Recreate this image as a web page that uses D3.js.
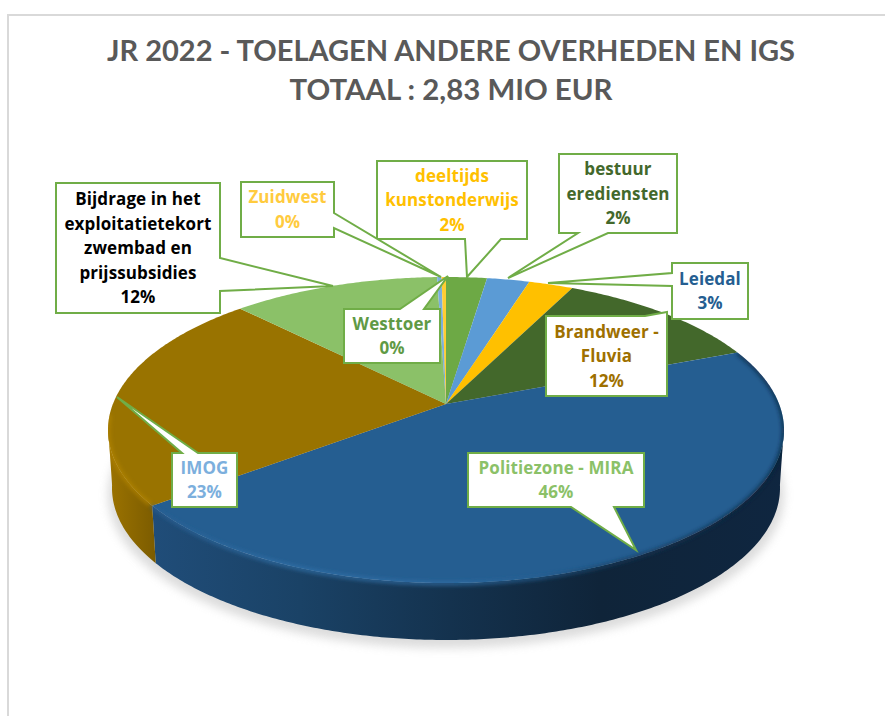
<!DOCTYPE html>
<html><head><meta charset="utf-8">
<script src="https://cdn.jsdelivr.net/npm/d3@7"></script>
<style>html,body{margin:0;padding:0;background:#fff}svg{display:block}</style></head>
<body><div id="chart"></div>
<script>
// ---- data ----
const categories = ["deeltijds kunstonderwijs","bestuur erediensten","Leiedal","Brandweer - Fluvia","Politiezone - MIRA","IMOG","Bijdrage in het exploitatietekort zwembad en prijssubsidies","Westtoer","Zuidwest"];
const values = [2.3,2.4,2.5,11.8,45.5,23.3,11.7,0.25,0.25];
const titleLines = ["JR 2022 - TOELAGEN ANDERE OVERHEDEN EN IGS","TOTAAL : 2,83 MIO EUR"];
const labelLines = [["deeltijds","kunstonderwijs"],["bestuur","erediensten"],["Leiedal"],["Brandweer -","Fluvia"],["Politiezone - MIRA"],["IMOG"],["Bijdrage in het","exploitatietekort","zwembad en","prijssubsidies"],["Westtoer"],["Zuidwest"]];
// ---- styles ----
const sliceColors = ["#6DA945","#5B9BD5","#FFC000","#43682B","#255E91","#997300","#8BC168","#7CAFDD","#FFCD33"];
const labelColors = ["#FFC000","#43682B","#255E91","#9E7000","#8BC168","#7CAFDD","#000000","#5F9A45","#FFCB3E"];
// callout layout [left, top, right, bottom] and pointer polygon
const callouts = [
 {box:[377,161,527,239],ptr:[[465,239],[467,277],[501,239]]},
 {box:[559,154,677,233],ptr:[[578,233],[508,278],[608,233]]},
 {box:[672,263,748,319],ptr:[[672,273],[548,283],[672,286]]},
 {box:[546,316,667,396],ptr:[[645,316],[667,312],[667,316]]},
 {box:[468,453,644,507],ptr:[[571,507],[636,550],[614,507]]},
 {box:[172,453,237,507],ptr:[[182,453],[117,397],[198,453]]},
 {box:[56,183,220,313],ptr:[[220,258],[333,286],[220,291]]},
 {box:[344,309,440,363],ptr:[[400,309],[448,276],[424,309]]},
 {box:[241,182,334,237],ptr:[[334,213],[441,277],[334,228]]}
];
// ---- geometry: a tilted disc seen in perspective ----
const W=885,H=716, cx=446, cy=430, rx=338, ry=153, apexY=404;
const a=(apexY-cy)/ry, s=Math.sqrt(1-a*a);
function project(theta, r=1, c=cy, radX=rx, radY=ry){
  const u=r*Math.sin(theta), v=-r*Math.cos(theta), d=1+a*v;
  return [cx+radX*u*s/d, c+radY*(v+a)/d];
}
const frontFrom=Math.acos(a), frontTo=2*Math.PI-Math.acos(a);
function sample(t0,t1){const n=Math.max(2,Math.ceil(Math.abs(t1-t0)/0.01));return d3.range(n+1).map(i=>t0+(t1-t0)*i/n);}
const line=d3.line();
const arcs=d3.pie().sort(null).value(d=>d)(values);

const svg=d3.select("#chart").append("svg").attr("width",W).attr("height",H);
const defs=svg.append("defs");
function blur(id,sd){defs.append("filter").attr("id",id).attr("x","-20%").attr("y","-20%").attr("width","140%").attr("height","140%")
  .append("feGaussianBlur").attr("stdDeviation",sd);}
blur("b6",5);blur("b2",2);blur("b1",1);
function grad(id,stops){const g=defs.append("linearGradient").attr("id",id).attr("gradientUnits","userSpaceOnUse")
  .attr("x1",108).attr("x2",785).attr("y1",0).attr("y2",0);
  stops.forEach(([x,c])=>g.append("stop").attr("offset",(x-108)/677).attr("stop-color",c));}
grad("wallNavy",[[150,"#204D79"],[300,"#1A4266"],[450,"#14324E"],[600,"#0F2439"],[785,"#0F2640"]]);
grad("wallBrown",[[108,"#9C7300"],[155,"#7C5C00"]]);
grad("rimNavy",[[150,"#285F92"],[280,"#3373AC"],[450,"#3070A8"],[540,"#255E91"],[620,"#16395A"],[785,"#0E2238"]]);
grad("rimBrown",[[108,"#B58600"],[155,"#B58600"]]);

// frame
svg.append("path").attr("d",`M${W},15H8V${H}`).attr("fill","none").attr("stroke","#D9D9D9").attr("stroke-width",2);

// title
svg.append("g").selectAll("text").data(titleLines).join("text")
 .attr("x",451).attr("y",(d,i)=>61+i*38.5).attr("text-anchor","middle")
 .attr("font-family","Lato").attr("font-weight",700).attr("font-size",28).attr("fill","#595959")
 .attr("textLength",(d,i)=>[688,323][i]).attr("lengthAdjust","spacingAndGlyphs").text(d=>d);

// ground shadow
svg.append("path").attr("d",line(sample(0,2*Math.PI).map(t=>project(t,1,cy+65,338,153))))
 .attr("fill","#a8a8a8").attr("opacity",.4).attr("filter","url(#b6)");

// walls
const wallFill={4:"url(#wallNavy)",5:"url(#wallBrown)"};
const wallPath=d=>{
   const t0=Math.max(d.startAngle,frontFrom-0.02),t1=Math.min(d.endAngle,frontTo+0.02);
   const ts=sample(t0,t1);
   return line(ts.map(t=>project(t)).concat(ts.slice().reverse().map(t=>project(t,1,cy+58,334,152))))+"Z";
};
const frontArcs=arcs.filter(d=>d.endAngle>frontFrom&&d.startAngle<frontTo);
svg.append("g").selectAll("path").data(frontArcs).join("path").attr("d",wallPath).attr("fill",d=>wallFill[d.index]);

// top faces
svg.append("g").selectAll("path").data(arcs).join("path")
 .attr("d",d=>line([[cx,apexY]].concat(sample(d.startAngle,d.endAngle).map(t=>project(t))))+"Z")
 .attr("fill",d=>sliceColors[d.index]);

// bevel along the rim, kept inside the silhouette of the disc
const rimStroke={4:"url(#rimNavy)",5:"url(#rimBrown)"};
const clip=defs.append("clipPath").attr("id","discClip");
clip.append("path").attr("d",line(sample(0,2*Math.PI).map(t=>project(t)))+"Z");
clip.selectAll("path.w").data(frontArcs).join("path").attr("class","w").attr("d",wallPath);
svg.append("g").attr("clip-path","url(#discClip)").selectAll("path").data(arcs.filter(d=>rimStroke[d.index])).join("path")
 .attr("d",d=>line(sample(d.startAngle+(d.index===4?0:0.01),Math.min(d.endAngle,frontTo+0.1)).map(t=>{const p=project(t);return [p[0],p[1]+0.5];})))
 .attr("fill","none").attr("stroke",d=>rimStroke[d.index]).attr("stroke-width",3).attr("filter","url(#b2)");

// callouts
const g=svg.append("g").selectAll("g").data(d3.range(values.length)).join("g");
g.append("path").attr("d",i=>{
   const [l,t,r,b]=callouts[i].box, p=callouts[i].ptr;
   let seq;
   if(p[0][1]===b&&p[2][1]===b) seq=[[l,t],[r,t],[r,b],p[2],p[1],p[0],[l,b]];
   else if(p[0][1]===t&&p[2][1]===t) seq=[[l,t],p[0],p[1],p[2],[r,t],[r,b],[l,b]];
   else if(p[0][0]===r) seq=[[l,t],[r,t],p[0],p[1],p[2],[r,b],[l,b]];
   else seq=[[l,t],[r,t],[r,b],[l,b],p[2],p[1],p[0]];
   return line(seq)+"Z";
 }).attr("fill","#fff").attr("stroke","#70AD47").attr("stroke-width",2).attr("stroke-linejoin","miter");
g.append("text").attr("text-anchor","middle").attr("font-family","Open Sans").attr("font-weight",700).attr("font-size",17).attr("letter-spacing",0.1)
 .attr("fill",i=>labelColors[i]).each(function(i){
   const b=callouts[i].box, lines=labelLines[i].concat([Math.round(values[i])+"%"]);
   const lh=24.5, x=(b[0]+b[2])/2, y0=(b[1]+b[3])/2-(lines.length-1)*lh/2+6;
   d3.select(this).selectAll("tspan").data(lines).join("tspan").attr("x",x).attr("y",(d,k)=>y0+k*lh).text(d=>d);
 });
</script></body></html>
